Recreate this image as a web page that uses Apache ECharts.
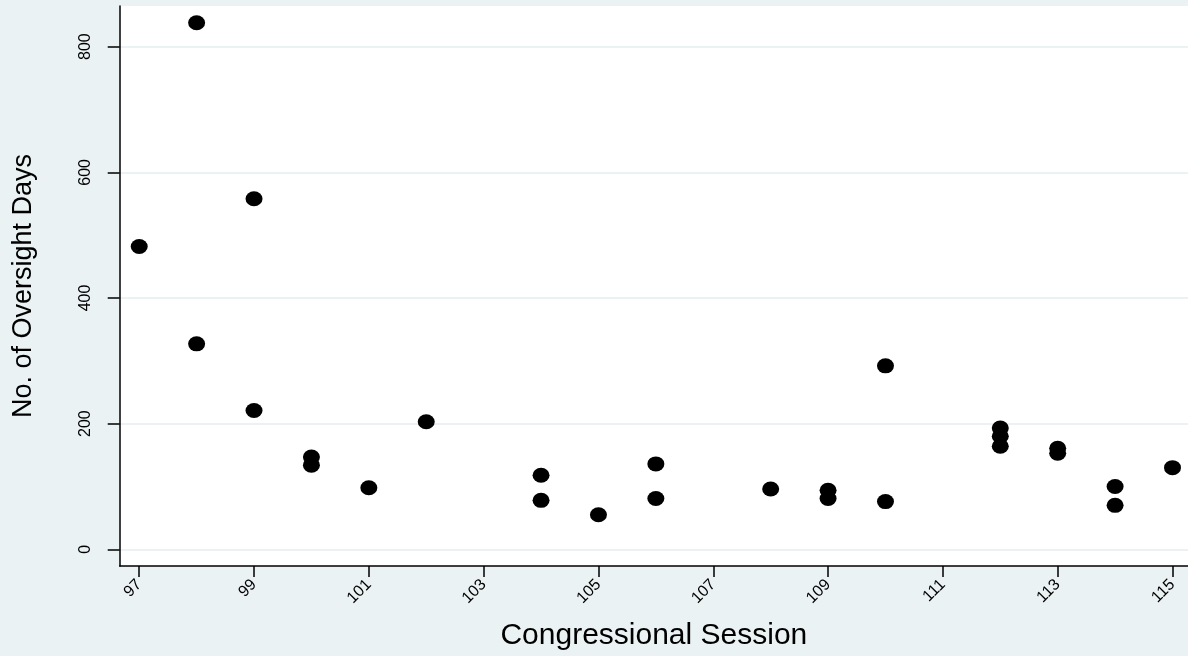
<!DOCTYPE html>
<html>
<head>
<meta charset="utf-8">
<script src="https://cdn.jsdelivr.net/npm/echarts@6/dist/echarts.min.js"></script>
<style>
  html, body { margin: 0; padding: 0; background: #eaf2f3; }
  #chart { width: 1188px; height: 656px; }
</style>
</head>
<body>
<div id="chart"></div>
<script>
// congressional session of each observation, and oversight days
var sessions = [97, 98, 98, 99, 99, 100, 100, 101, 102, 104, 104, 105, 106, 106,
                108, 109, 109, 110, 110, 112, 112, 112, 113, 113, 114, 114, 115];
var days = [482, 838, 327, 558, 221, 147, 134, 98, 203, 118, 78, 55, 136, 81,
            96, 94, 81, 292, 76, 193, 180, 164, 161, 153, 100, 70, 130];
var xTicks = [97, 99, 101, 103, 105, 107, 109, 111, 113, 115];
var yTicks = [0, 200, 400, 600, 800];

var points = sessions.map(function(s, i) {
	return [s, days[i]];
});

var byId = function(id) {
	return document.getElementById(id);
};

var chart = echarts.init(byId('chart'));
chart.setOption({
	backgroundColor: '#eaf2f3',
	textStyle: { fontFamily: 'Liberation Sans, Arial, sans-serif' },
	grid: {
		left: 119.7,
		top: 6,
		right: 0,
		bottom: 89.3,
		show: true,
		backgroundColor: '#ffffff',
		borderWidth: 0
	},
	xAxis: {
		type: 'value',
		min: 96.66,
		max: 115.27,
		name: 'Congressional Session',
		nameLocation: 'middle',
		nameGap: 55,
		nameTextStyle: { fontSize: 30, color: '#000' },
		axisLine: { onZero: false, lineStyle: { color: '#000', width: 1.5 } },
		axisTick: { show: true, length: 11, customValues: xTicks, lineStyle: { color: '#000', width: 1.5 } },
		axisLabel: { customValues: xTicks, rotate: 45, margin: 16, fontSize: 16, color: '#000' },
		splitLine: { show: false }
	},
	yAxis: {
		type: 'value',
		min: -26.5,
		max: 864.7,
		name: 'No. of Oversight Days',
		nameLocation: 'middle',
		nameGap: 83,
		nameTextStyle: { fontSize: 27, color: '#000' },
		axisLine: { show: true, onZero: false, lineStyle: { color: '#000', width: 1.5 } },
		axisTick: { show: true, length: 12, customValues: yTicks, lineStyle: { color: '#000', width: 1.5 } },
		axisLabel: { customValues: yTicks, rotate: 90, margin: 26, fontSize: 16, color: '#000' },
		splitLine: { show: true, lineStyle: { color: '#eaf2f3', width: 2 } }
	},
	series: [{
		type: 'scatter',
		data: points,
		symbol: 'circle',
		symbolSize: [17, 15],
		itemStyle: { color: '#000', opacity: 1 },
		emphasis: { disabled: true }
	}],
	animation: false
});
</script>
</body>
</html>
